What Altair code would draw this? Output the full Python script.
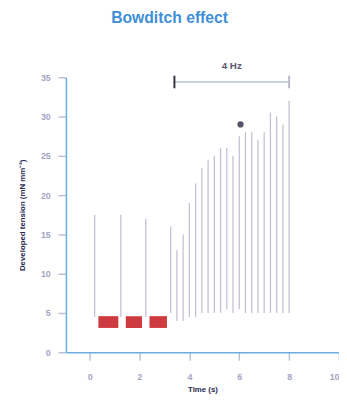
import altair as alt
import pandas as pd

# 1 Hz beats (time s, min, max force)
slow_t = [0.2, 1.25, 2.25, 3.25]
slow_hi = [17.5, 17.5, 17.0, 16.0]
slow_lo = [4.5, 4.5, 4.5, 5.0]

# 4 Hz beats
fast_t = [3.5, 3.75, 4.0, 4.25, 4.5, 4.75, 5.0, 5.25, 5.5, 5.75,
          6.0, 6.25, 6.5, 6.75, 7.0, 7.25, 7.5, 7.75, 8.0]
fast_hi = [13.0, 15.0, 19.0, 21.5, 23.5, 24.5, 25.0, 26.0, 26.0, 25.0,
           27.5, 28.0, 28.0, 27.0, 28.0, 30.5, 30.0, 29.0, 32.0]
fast_lo = [4.0, 4.0, 4.5, 4.5, 5.0, 5.0, 5.0, 5.0, 5.5, 5.0,
           5.5, 5.0, 5.0, 5.0, 5.0, 5.0, 5.0, 5.0, 5.0]

# red highlighted segments
red_start = [0.35, 1.45, 2.4]
red_end = [1.15, 2.1, 3.1]
red_lo = [3.1, 3.1, 3.1]
red_hi = [4.6, 4.6, 4.6]

# marker dot
dot_t = [6.05]
dot_v = [29.0]

# bracket annotation
br_start, br_end, br_y = 3.4, 8.0, 34.4
br_label = "4 Hz"

x_ticks = [0, 2, 4, 6, 8, 10]
y_ticks = [0, 5, 10, 15, 20, 25, 30, 35]

beats = pd.DataFrame({
    "t": slow_t + fast_t,
    "lo": slow_lo + fast_lo,
    "hi": slow_hi + fast_hi,
})
red = pd.DataFrame({"t": red_start, "b": red_end, "lo": red_lo, "hi": red_hi})
dots = pd.DataFrame({"t": dot_t, "lo": dot_v})
bracket = pd.DataFrame({"t": [br_start], "b": [br_end], "lo": [br_y]})
ends = pd.DataFrame({"t": [br_start, br_end], "lo": [br_y - 0.8, br_y - 0.8],
                     "hi": [br_y + 0.8, br_y + 0.8], "c": ["#333344", "#b8b8c8"]})
lab = pd.DataFrame({"t": [(br_start + br_end) / 2], "lo": [br_y + 2.0], "s": [br_label]})

xs = alt.Scale(domain=[-0.95, 10], nice=False, zero=False)
ys = alt.Scale(domain=[0, 35], nice=False)

x_axis = alt.Axis(values=x_ticks, title="Time (s)", tickSize=8, labelPadding=13,
                  titlePadding=4, grid=False, labelOverlap=False)
y_axis = alt.Axis(values=y_ticks, title="Developed tension (mN mm⁻²)", tickSize=8,
                  labelPadding=8, titlePadding=14, grid=False, labelOverlap=False)

X = alt.X("t:Q", scale=xs, axis=x_axis)
Y = alt.Y("lo:Q", scale=ys, axis=y_axis)

base_beats = alt.Chart(beats).mark_rule(color="#b0a2c4", strokeWidth=1.3, opacity=0.7).encode(
    x=X, y=Y, y2="hi:Q",
)

red_layer = alt.Chart(red).mark_rect(color="#c8262b", opacity=0.9).encode(
    x=X, x2="b:Q", y=Y, y2="hi:Q"
)

dot_layer = alt.Chart(dots).mark_circle(color="#55556a", size=40, opacity=1).encode(
    x=X, y=Y
)

br_layer = alt.Chart(bracket).mark_rule(color="#b8c0d0", strokeWidth=1.5).encode(
    x=X, x2="b:Q", y=Y
)

end_layer = alt.Chart(ends).mark_rule(strokeWidth=2).encode(
    x=X, y=Y, y2="hi:Q",
    color=alt.Color("c:N", scale=None)
)

lab_layer = alt.Chart(lab).mark_text(color="#555570", fontSize=10, fontWeight="bold",
                                     font="Liberation Sans").encode(
    x=X, y=Y, text="s:N"
)

chart = alt.layer(base_beats, red_layer, br_layer, end_layer, dot_layer, lab_layer).properties(
    width=278,
    height=280,
    autosize="none",
    padding={"left": 59, "top": 67, "right": 0, "bottom": 43},
    title=alt.TitleParams(text="Bowditch effect", color="#3f8fd8", fontSize=16,
                          fontWeight="bold", font="Liberation Sans", anchor="start",
                          frame="group", dx=46, offset=36),
).configure_view(stroke=None).configure_axis(
    domainColor="#6aaee0",
    domainWidth=1.5,
    tickColor="#b8c0d8",
    tickWidth=1.5,
    labelColor="#a4a4c4",
    labelFontSize=9,
    labelFontWeight="bold",
    labelFont="Liberation Sans",
    titleColor="#2a2a50",
    titleFontSize=8,
    titleFontWeight="bold",
    titleFont="Liberation Sans",
)

chart.save("out.html", embed_options={"renderer": "svg", "actions": False})
